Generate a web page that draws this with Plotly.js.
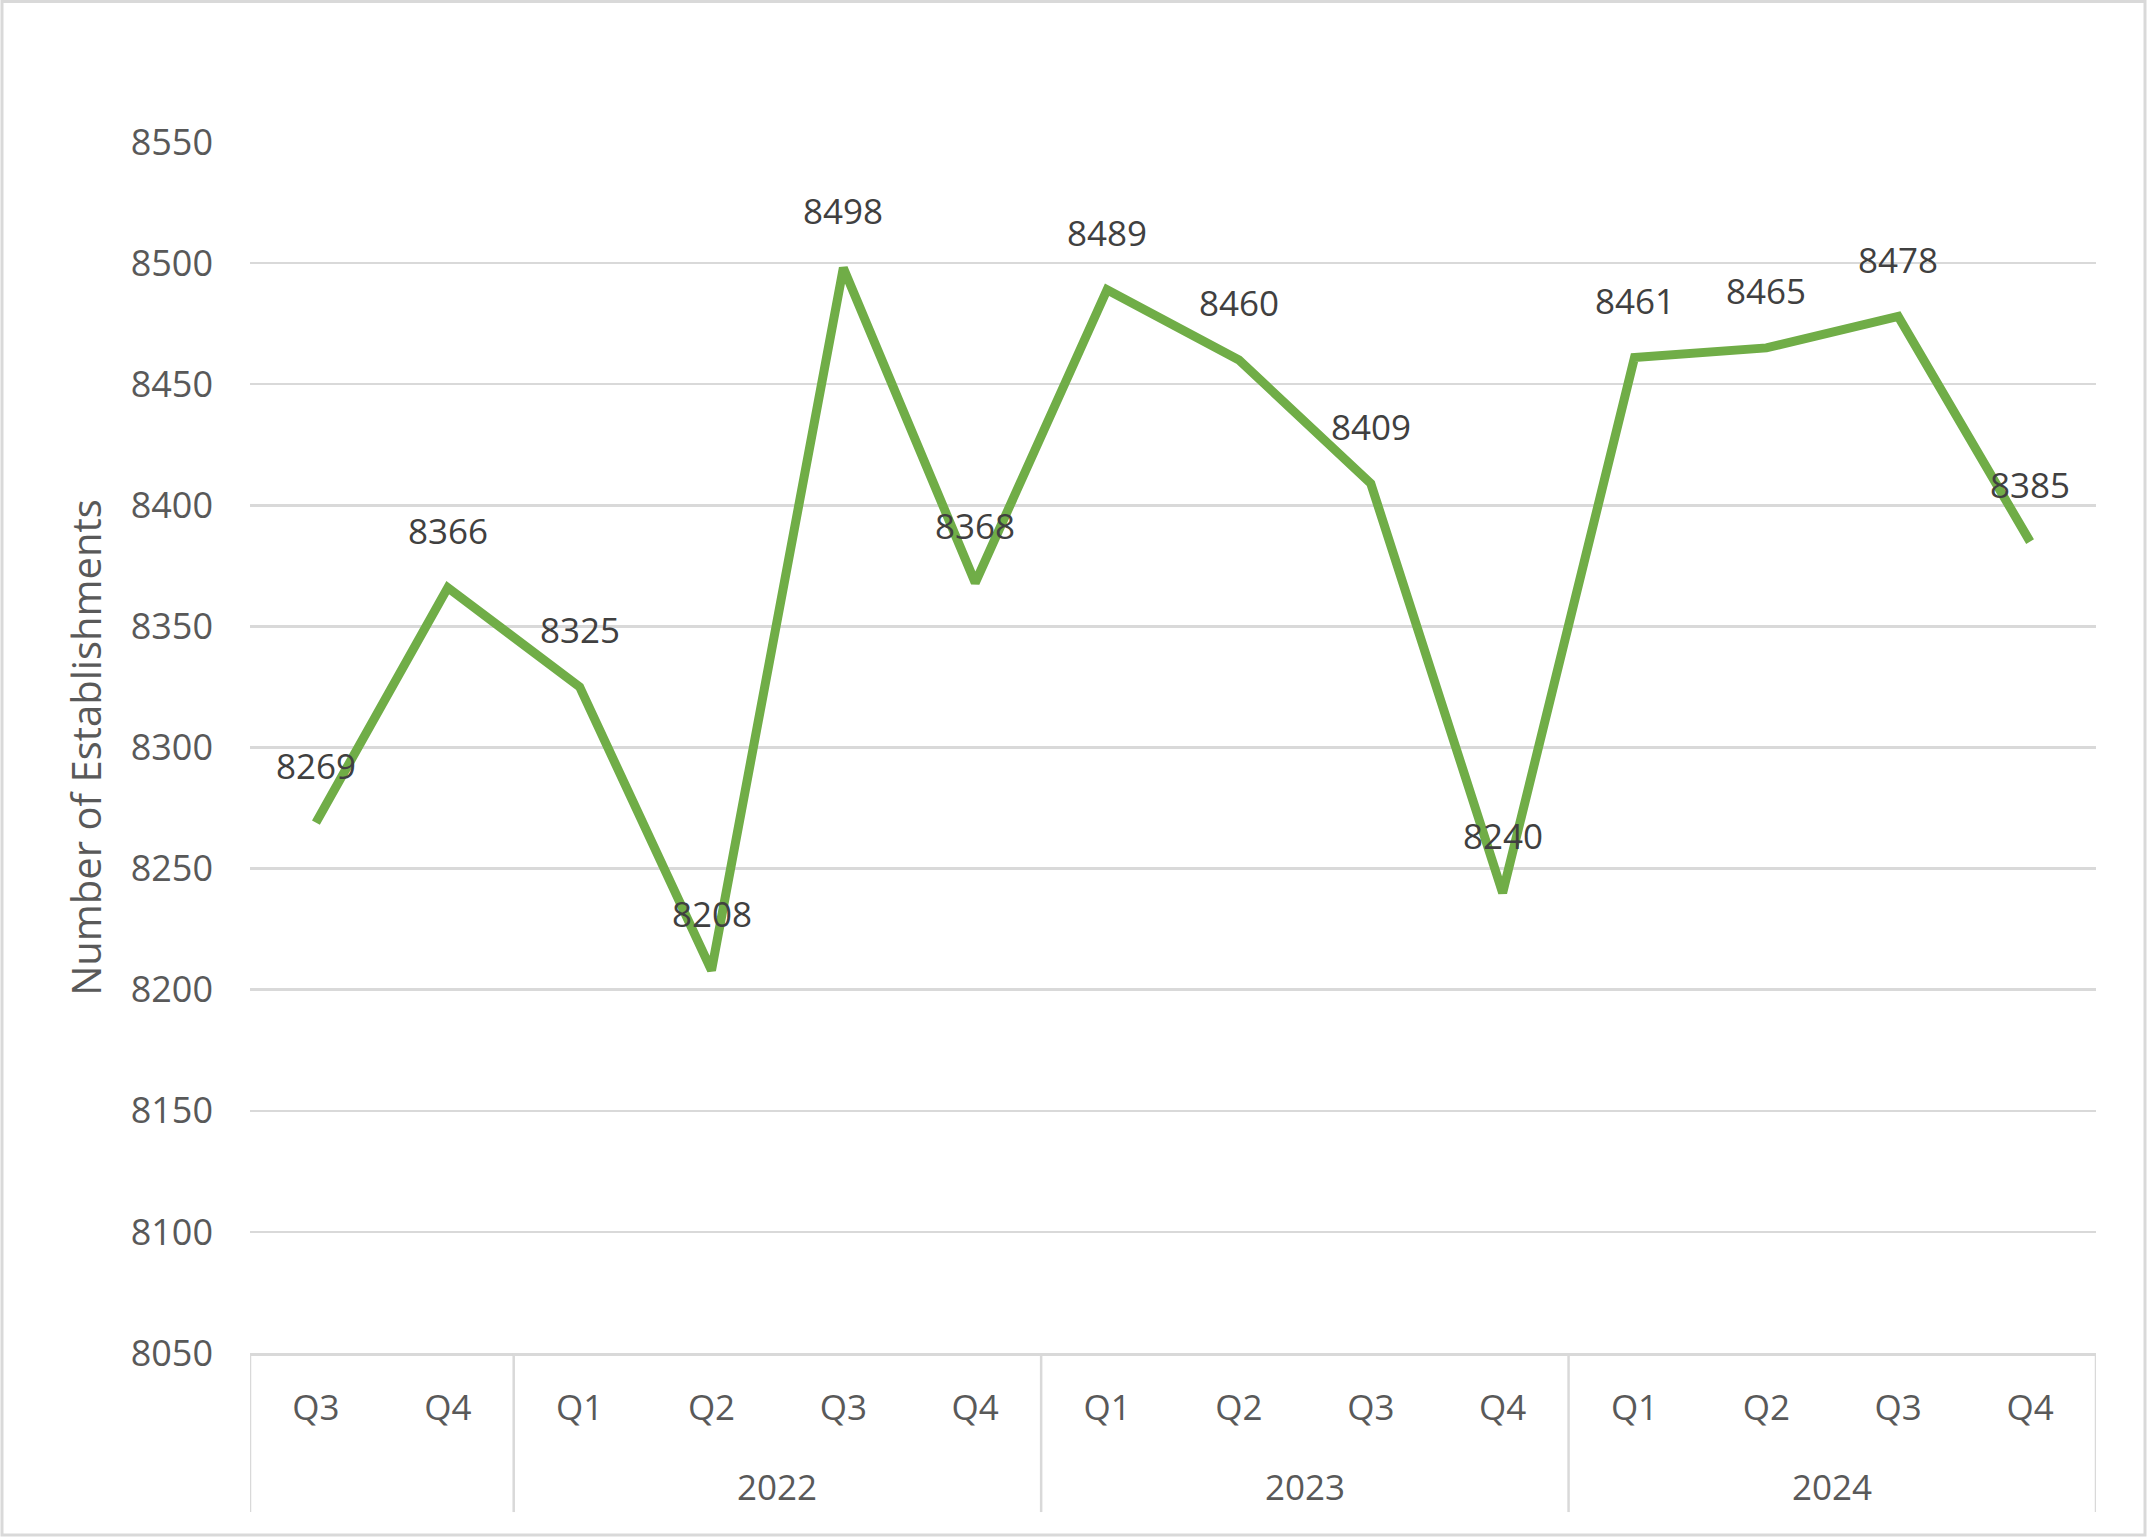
<!DOCTYPE html>
<html>
<head>
<meta charset="utf-8">
<script src="https://cdn.plot.ly/plotly-3.0.1.min.js"></script>
<style>
  html, body { margin: 0; padding: 0; background: #ffffff; }
  #chart { width: 2147px; height: 1537px; }
</style>
</head>
<body>
<div id="chart"></div>
<script>
// ---- Data ----
const periods  = ["2021 Q3", "2021 Q4", "2022 Q1", "2022 Q2", "2022 Q3", "2022 Q4",
                  "2023 Q1", "2023 Q2", "2023 Q3", "2023 Q4",
                  "2024 Q1", "2024 Q2", "2024 Q3", "2024 Q4"];
const quarters = ["Q3", "Q4", "Q1", "Q2", "Q3", "Q4", "Q1", "Q2", "Q3", "Q4", "Q1", "Q2", "Q3", "Q4"];
const establishments = [8269, 8366, 8325, 8208, 8498, 8368, 8489, 8460, 8409, 8240, 8461, 8465, 8478, 8385];
// year groups: label, first index, last index
const yearGroups = [
  {label: "",     from: 0,  to: 1},
  {label: "2022", from: 2,  to: 5},
  {label: "2023", from: 6,  to: 9},
  {label: "2024", from: 10, to: 13}
];
const yTicks = [8050, 8100, 8150, 8200, 8250, 8300, 8350, 8400, 8450, 8500, 8550];

// ---- Style ----
const FONT = "Open Sans, Segoe UI, sans-serif";
const GRID = "#d9d9d9";
const AXIS_TXT = "#595959";
const LABEL_TXT = "#404040";
const GREEN = "#70AD47";

const trace = {
  type: "scatter",
  mode: "lines",
  x: periods,
  y: establishments,
  line: {color: GREEN, width: 9, shape: "linear"},
  hoverinfo: "x+y",
  showlegend: false
};

const annotations = [];
// data labels
periods.forEach((p, i) => {
  annotations.push({
    x: p, y: establishments[i], xref: "x", yref: "y",
    text: String(establishments[i]),
    showarrow: false, yshift: 57,
    xanchor: "center", yanchor: "middle",
    font: {family: FONT, size: 35, color: LABEL_TXT}
  });
});
// year labels
yearGroups.forEach(g => {
  if (!g.label) return;
  annotations.push({
    x: (g.from + g.to) / 2, y: 0, xref: "x", yref: "paper",
    text: g.label, showarrow: false, yshift: -133,
    xanchor: "center", yanchor: "middle",
    font: {family: FONT, size: 35, color: AXIS_TXT}
  });
});

const shapes = [];
// group dividers
const dividerBottom = -159 / 1210.5;
const edges = [yearGroups[0].from - 0.5].concat(yearGroups.map(g => g.to + 0.5));
edges.forEach(e => {
  shapes.push({
    type: "line", xref: "x", yref: "paper",
    x0: e, x1: e, y0: 0, y1: dividerBottom,
    line: {color: GRID, width: 2.5}
  });
});
// outer frame
shapes.push({
  type: "rect", xref: "paper", yref: "paper",
  x0: (2 - 250) / 1846, x1: (2145 - 250) / 1846,
  y0: (1353 - 1535) / 1210.5, y1: (1353 - 2) / 1210.5,
  line: {color: GRID, width: 3}, fillcolor: "rgba(0,0,0,0)", layer: "below"
});

const layout = {
  width: 2147, height: 1537,
  paper_bgcolor: "#ffffff", plot_bgcolor: "#ffffff",
  margin: {l: 250, r: 51, t: 142, b: 184, pad: 0},
  font: {family: FONT, color: AXIS_TXT, size: 35},
  showlegend: false,
  xaxis: {
    type: "category",
    range: [-0.5, periods.length - 0.5],
    tickmode: "array",
    tickvals: periods,
    ticktext: quarters,
    ticks: "",
    ticklabelstandoff: 22,
    tickfont: {family: FONT, size: 35, color: AXIS_TXT},
    showgrid: false,
    showline: true, linecolor: GRID, linewidth: 2.5,
    zeroline: false, fixedrange: true
  },
  yaxis: {
    range: [8050, 8550],
    tickmode: "array",
    tickvals: yTicks,
    ticktext: yTicks.map(String),
    ticks: "",
    ticklabelstandoff: 36,
    tickfont: {family: FONT, size: 36, color: AXIS_TXT},
    showgrid: true, gridcolor: GRID, gridwidth: 2.5,
    showline: false, zeroline: false, fixedrange: true,
    title: {
      text: "Number of Establishments",
      font: {family: FONT, size: 40, color: AXIS_TXT},
      standoff: 16
    }
  },
  annotations: annotations,
  shapes: shapes
};

Plotly.newPlot("chart", [trace], layout, {displayModeBar: false, staticPlot: true});
</script>
</body>
</html>
